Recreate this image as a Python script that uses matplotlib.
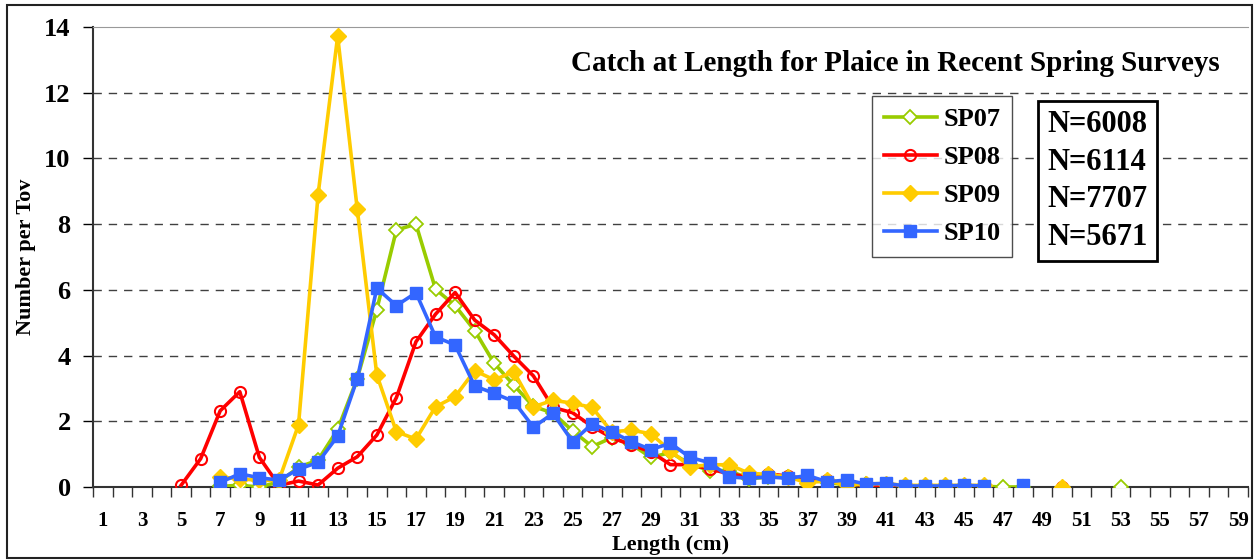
import matplotlib.pyplot as plt
import numpy as np
from matplotlib.patches import Rectangle

nan = np.nan

# length classes (cm)
lengths = np.arange(1, 60)

# number per tow by length, first value at 5 cm (earlier classes empty)
sp07 = [nan, nan, 0.02, 0.05, 0.0, 0.15, 0.6, 0.82, 1.75, 3.3,
        5.4, 7.82, 8.0, 6.02, 5.52, 4.76, 3.76, 3.1, 2.45, 2.25,
        1.71, 1.23, 1.5, 1.3, 0.9, 1.05, 0.7, 0.5, 0.5, 0.25,
        0.3, 0.3, 0.2, 0.15, 0.05, 0.1, 0.05, 0.02, 0.02, 0.02,
        0.02, 0.02, 0.0, 0.0, nan, nan, nan, nan, 0.0]
sp08 = [0.05, 0.86, 2.32, 2.9, 0.9, 0.05, 0.18, 0.06, 0.57, 0.92,
        1.58, 2.72, 4.42, 5.26, 5.92, 5.08, 4.63, 3.98, 3.38, 2.42,
        2.26, 1.84, 1.5, 1.28, 1.07, 0.68, 0.68, 0.55, 0.4, 0.3,
        0.4, 0.33, 0.25, 0.2, 0.1, 0.05, 0.05, 0.03, 0.03, 0.03,
        0.03, 0.03, nan, nan, nan, 0.0]
sp09 = [nan, nan, 0.3, 0.25, 0.2, 0.2, 1.89, 8.9, 13.72, 8.46,
        3.41, 1.68, 1.46, 2.44, 2.75, 3.54, 3.26, 3.51, 2.44, 2.64,
        2.55, 2.42, 1.68, 1.73, 1.62, 1.1, 0.62, 0.67, 0.68, 0.42,
        0.38, 0.31, 0.12, 0.2, 0.05, 0.1, 0.1, 0.05, 0.05, 0.05,
        0.05, 0.05, nan, nan, nan, 0.0]
sp10 = [nan, nan, 0.14, 0.4, 0.28, 0.21, 0.54, 0.75, 1.55, 3.29,
        6.05, 5.52, 5.91, 4.57, 4.32, 3.07, 2.85, 2.6, 1.82, 2.24,
        1.38, 1.92, 1.68, 1.38, 1.14, 1.33, 0.9, 0.74, 0.31, 0.26,
        0.31, 0.26, 0.35, 0.16, 0.21, 0.09, 0.11, 0.03, 0.03, 0.03,
        0.05, 0.03, nan, 0.05]

series = ['SP07', 'SP08', 'SP09', 'SP10']
n_fish = ['N=6008', 'N=6114', 'N=7707', 'N=5671']


def pad(vals):
    out = np.full(len(lengths), nan)
    out[4:4 + len(vals)] = vals
    return out


plt.rcParams['font.family'] = ['Liberation Serif', 'DejaVu Serif']
plt.rcParams['font.weight'] = 'bold'
plt.rcParams['axes.labelweight'] = 'bold'

fig = plt.figure(figsize=(12.58, 5.6), dpi=100)
ax = fig.add_axes([0.0739, 0.1304, 0.9181, 0.8214])

# outer frame round the whole chart
fig.patches.append(Rectangle((0.0056, 0.004), 0.99, 0.987, transform=fig.transFigure,
                             fill=False, edgecolor='#222222', linewidth=1.5))

lw = 2.6
ax.plot(lengths, pad(sp07), color='#99CC00', lw=lw, marker='D', ms=7,
        mfc='white', mec='#99CC00', mew=1.3, label='SP07', zorder=3)
ax.plot(lengths, pad(sp08), color='#FF0000', lw=lw, marker='o', ms=8,
        mfc='none', mec='#FF0000', mew=1.5, label='SP08', zorder=4)
ax.plot(lengths, pad(sp09), color='#FFCC00', lw=lw, marker='D', ms=8,
        mfc='#FFCC00', mec='#FFCC00', label='SP09', zorder=5)
ax.plot(lengths, pad(sp10), color='#3366FF', lw=lw, marker='s', ms=9,
        mfc='#3366FF', mec='#3366FF', label='SP10', zorder=6)

ax.set_xlim(0.5, 59.5)
ax.set_ylim(0, 14)
ax.set_xticks(np.arange(0.5, 60, 1))
ax.set_xticklabels([])
ax.set_xticks(lengths[::2], minor=True)
ax.set_xticklabels([str(v) for v in lengths[::2]], minor=True, fontsize=15)
ax.tick_params(axis='x', which='major', direction='out', length=7, width=1, color='#333333')
ax.tick_params(axis='x', which='minor', length=0, pad=17)
ax.set_yticks(np.arange(0, 15, 2))
ax.tick_params(axis='y', direction='out', length=7, width=1, labelsize=19, pad=9)

for y in range(2, 14, 2):
    ax.axhline(y, color='#404040', lw=1, dashes=(6, 5), zorder=1)

for s in ['left', 'bottom']:
    ax.spines[s].set_color('#333333')
    ax.spines[s].set_linewidth(1.5)
ax.spines['top'].set_color('#999999')
ax.spines['right'].set_visible(False)

ax.set_xlabel('Length (cm)', fontsize=16, labelpad=3)
ax.set_ylabel('Number per Tov', fontsize=16, labelpad=6)

ax.text(0.976, 0.92, 'Catch at Length for Plaice in Recent Spring Surveys',
        transform=ax.transAxes, ha='right', va='center', fontsize=21)

leg = ax.legend(loc='upper left', bbox_to_anchor=(0.6745, 0.85), fontsize=19,
                frameon=True, fancybox=False, edgecolor='#222222', handlelength=2.0,
                handletextpad=0.25, labelspacing=0.55, borderpad=0.45, borderaxespad=0)
leg.get_frame().set_linewidth(1)
leg.set_zorder(10)

ax.text(0.826, 0.665, '\n'.join(n_fish), transform=ax.transAxes, ha='left', va='center',
        fontsize=22, linespacing=1.4, zorder=10,
        bbox=dict(boxstyle='square,pad=0.3', fc='white', ec='black', lw=2))

fig.savefig('out.png', dpi=100)
